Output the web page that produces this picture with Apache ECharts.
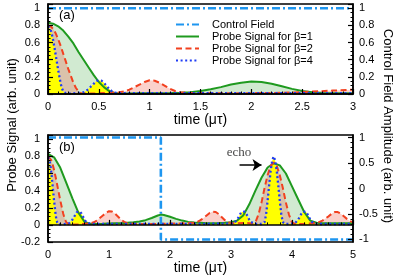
<!DOCTYPE html>
<html><head><meta charset="utf-8">
<script src="https://cdn.jsdelivr.net/npm/echarts@6/dist/echarts.min.js"></script>
<style>html,body{margin:0;padding:0;background:#fff}#c{width:399px;height:276px}</style>
</head><body><div id="c"></div>
<script>
// ---------- DATA ----------
const legendNames = ['Control Field', 'Probe Signal for β=1', 'Probe Signal for β=2', 'Probe Signal for β=4'];
const xTickTop = [0, 0.5, 1, 1.5, 2, 2.5, 3];
const xTickBot = [0, 1, 2, 3, 4, 5];
const rightTicksBot = [-1, -0.5, 0, 0.5, 1];

// panel (a)
const ctrlTopT = [0, 3];
const ctrlTopV = [1, 1];
const b1TopT = [0,0.05,0.1,0.15,0.2,0.25,0.3,0.35,0.4,0.45,0.5,0.55,0.6,0.65,0.7,0.8,0.9,1.0,1.1,1.2,1.3,1.4,1.5,1.6,1.7,1.8,1.9,2.0,2.1,2.2,2.3,2.4,2.5,2.6,2.7,2.8,2.9,3.0];
const b1TopV = [0.83,0.82,0.79,0.74,0.67,0.59,0.49,0.40,0.31,0.22,0.14,0.08,0.035,0.012,0.006,0.006,0.008,0.01,0.01,0.012,0.015,0.02,0.035,0.055,0.08,0.11,0.13,0.145,0.14,0.12,0.09,0.06,0.035,0.02,0.012,0.01,0.01,0.01];
const b2TopT = [0,0.025,0.05,0.075,0.1,0.125,0.15,0.175,0.2,0.225,0.25,0.275,0.3,0.325,0.35,0.4,0.5,0.6,0.7,0.75,0.8,0.85,0.9,0.95,1.0,1.05,1.1,1.15,1.2,1.25,1.3,1.4,1.6,1.8,2.0,2.2,2.4,2.6,2.8,3.0];
const b2TopV = [0.80,0.79,0.76,0.71,0.64,0.56,0.47,0.38,0.29,0.21,0.13,0.07,0.03,0.01,0.005,0.005,0.008,0.012,0.02,0.03,0.05,0.08,0.11,0.14,0.16,0.155,0.13,0.095,0.06,0.035,0.02,0.012,0.01,0.01,0.01,0.012,0.018,0.028,0.04,0.05];
const b4TopT = [0,0.0125,0.025,0.0375,0.05,0.0625,0.075,0.0875,0.1,0.1125,0.125,0.1375,0.15,0.1625,0.175,0.2,0.25,0.3,0.35,0.375,0.4,0.425,0.45,0.475,0.5,0.525,0.55,0.575,0.6,0.625,0.65,0.7,0.8,1.0,1.5,2.0,2.5,3.0];
const b4TopV = [0.79,0.78,0.75,0.70,0.63,0.55,0.46,0.37,0.28,0.20,0.12,0.065,0.03,0.01,0.005,0.005,0.008,0.012,0.02,0.035,0.06,0.09,0.12,0.15,0.16,0.155,0.13,0.095,0.06,0.035,0.018,0.01,0.01,0.01,0.01,0.01,0.01,0.01];

// panel (b)
const ctrlBotT = [0, 1.85, 1.85, 5];
const ctrlBotV = [1, 1, -1, -1];
const b1BotT = [0,0.1,0.2,0.3,0.4,0.5,0.6,0.7,0.8,0.9,1.0,1.1,1.2,1.3,1.4,1.5,1.6,1.7,1.8,1.85,1.9,2.0,2.1,2.2,2.3,2.4,2.5,2.6,2.7,2.8,2.9,3.0,3.1,3.2,3.3,3.4,3.5,3.6,3.7,3.8,3.9,4.0,4.1,4.2,4.3,4.4,4.5,4.6,4.8,5.0];
const b1BotV = [0.83,0.79,0.67,0.49,0.31,0.14,0.035,0.01,0.01,0.012,0.015,0.018,0.02,0.025,0.03,0.04,0.055,0.08,0.11,0.12,0.115,0.095,0.07,0.05,0.035,0.028,0.024,0.02,0.02,0.022,0.025,0.03,0.05,0.11,0.24,0.40,0.55,0.67,0.72,0.695,0.60,0.45,0.30,0.15,0.05,0.025,0.02,0.02,0.02,0.02];
const b2BotT = [0,0.025,0.05,0.075,0.1,0.125,0.15,0.175,0.2,0.225,0.25,0.275,0.3,0.325,0.35,0.4,0.5,0.6,0.7,0.75,0.8,0.85,0.9,0.95,1.0,1.05,1.1,1.15,1.2,1.25,1.3,1.4,1.6,1.8,2.0,2.2,2.4,2.45,2.5,2.55,2.6,2.65,2.7,2.75,2.8,2.85,2.9,2.95,3.0,3.1,3.2,3.3,3.35,3.4,3.45,3.5,3.55,3.6,3.65,3.7,3.75,3.8,3.85,3.9,3.95,4.0,4.05,4.1,4.2,4.3,4.4,4.45,4.5,4.55,4.6,4.65,4.7,4.75,4.8,4.85,4.9,4.95,5.0];
const b2BotV = [0.80,0.79,0.76,0.71,0.64,0.56,0.47,0.38,0.29,0.21,0.13,0.07,0.03,0.01,0.005,0.005,0.008,0.012,0.02,0.03,0.05,0.08,0.11,0.14,0.16,0.155,0.13,0.095,0.06,0.035,0.02,0.012,0.01,0.012,0.015,0.018,0.025,0.035,0.055,0.08,0.11,0.14,0.155,0.15,0.125,0.09,0.055,0.032,0.02,0.018,0.022,0.02,0.015,0.03,0.12,0.26,0.43,0.58,0.69,0.73,0.69,0.58,0.43,0.26,0.12,0.03,0.012,0.01,0.012,0.018,0.025,0.035,0.05,0.075,0.10,0.13,0.15,0.15,0.13,0.10,0.07,0.045,0.03];
const b4BotT = [0,0.0125,0.025,0.0375,0.05,0.0625,0.075,0.0875,0.1,0.1125,0.125,0.1375,0.15,0.1625,0.175,0.2,0.25,0.3,0.35,0.375,0.4,0.425,0.45,0.475,0.5,0.525,0.55,0.575,0.6,0.625,0.65,0.7,0.8,1.0,1.5,2.0,2.5,3.0,3.05,3.075,3.1,3.125,3.15,3.175,3.2,3.225,3.25,3.275,3.3,3.325,3.35,3.4,3.5,3.55,3.575,3.6,3.625,3.65,3.675,3.7,3.725,3.75,3.775,3.8,3.825,3.85,3.875,3.9,4.0,4.05,4.075,4.1,4.125,4.15,4.175,4.2,4.225,4.25,4.275,4.3,4.325,4.35,4.4,4.5,5.0];
const b4BotV = [0.79,0.78,0.75,0.70,0.63,0.55,0.46,0.37,0.28,0.20,0.12,0.065,0.03,0.01,0.005,0.005,0.008,0.012,0.02,0.035,0.06,0.09,0.12,0.15,0.16,0.155,0.13,0.095,0.06,0.035,0.018,0.01,0.01,0.012,0.012,0.012,0.012,0.015,0.02,0.035,0.06,0.09,0.125,0.15,0.16,0.155,0.13,0.095,0.06,0.035,0.018,0.01,0.01,0.03,0.12,0.28,0.46,0.63,0.75,0.80,0.75,0.63,0.46,0.28,0.12,0.03,0.01,0.01,0.015,0.02,0.035,0.06,0.09,0.125,0.15,0.16,0.155,0.13,0.095,0.06,0.035,0.018,0.01,0.01,0.01];

// annotation (data coordinates, panel b)
const echoTextPos = [3.13, 0.85];
const echoArrowFrom = [3.14, 0.70];
const echoArrowTo = [3.50, 0.70];

// ---------- CHART ----------
const FONT = '"Liberation Sans", Arial, Helvetica, sans-serif';
const C_CTRL = '#1e96f0', C_G = '#1f9a1f', C_R = '#f2401f', C_B = '#1f3cf5';
const FILL_G = 'rgba(70,170,70,0.25)', FILL_R = 'rgba(240,90,70,0.28)', FILL_Y = '#ffff00';
const zip = (t, v) => t.map((x, i) => [x, v[i]]);

function lineS(name, xi, yi, data, color, width, type, z) {
  return {type: 'line', name, xAxisIndex: xi, yAxisIndex: yi, data, symbol: 'none', showSymbol: false,
    lineStyle: {color, width, type}, itemStyle: {color}, z, silent: true, animation: false};
}
function fillS(name, xi, yi, data, color) {
  return {type: 'line', name, xAxisIndex: xi, yAxisIndex: yi, data, symbol: 'none', showSymbol: false,
    lineStyle: {width: 0, opacity: 0}, areaStyle: {color, opacity: 1, origin: 0}, z: 1, silent: true, animation: false};
}
const fmt02 = v => (Math.abs(v * 5 - Math.round(v * 5)) < 1e-6 ? String(Math.round(v * 10) / 10) : '');
const fmt05 = v => (Math.abs(v * 2 - Math.round(v * 2)) < 1e-6 ? String(Math.round(v * 2) / 2) : '');

const tickStyle = {show: true, inside: true, length: 5, lineStyle: {color: '#000', width: 1.2}};
const minorStyle = (n) => ({show: true, splitNumber: n, length: 2.5, lineStyle: {color: '#000', width: 1}});
const axLine = {show: true, lineStyle: {color: '#000', width: 1.5}};
const lbl = (m, f) => ({color: '#000', fontSize: 11, fontFamily: FONT, margin: m, formatter: f});

function xAx(gi, max, interval, ticks) {
  return {gridIndex: gi, type: 'value', min: 0, max, interval, z: 10,
    axisLine: axLine, axisTick: tickStyle, minorTick: minorStyle(5), splitLine: {show: false},
    axisLabel: lbl(7, v => (ticks.some(t => Math.abs(t - v) < 1e-6) ? String(v) : '')),
    name: 'time (μτ)', nameLocation: 'middle', nameGap: 15,
    nameTextStyle: {color: '#000', fontSize: 14, fontFamily: FONT}};
}
function yAx(gi, pos, min, max, interval, f, minorN, margin) {
  return {gridIndex: gi, type: 'value', position: pos, min, max, interval, z: 10,
    axisLine: axLine, axisTick: tickStyle, minorTick: minorStyle(minorN), splitLine: {show: false},
    axisLabel: lbl(margin, f)};
}
const yRightBot = {gridIndex: 1, type: 'value', position: 'right', min: -1.05, max: 1.05, z: 10,
  axisLine: axLine,
  axisTick: Object.assign({}, tickStyle, {customValues: rightTicksBot}),
  minorTick: minorStyle(5), splitLine: {show: false},
  axisLabel: Object.assign(lbl(6, fmt05), {customValues: rightTicksBot})};

const series = [
  fillS('fg1', 0, 0, zip(b1TopT, b1TopV), FILL_G),
  fillS('fr1', 0, 0, zip(b2TopT, b2TopV), FILL_R),
  fillS('fy1', 0, 0, zip(b4TopT, b4TopV), FILL_Y),
  fillS('fg2', 1, 2, zip(b1BotT, b1BotV), FILL_G),
  fillS('fr2', 1, 2, zip(b2BotT, b2BotV), FILL_R),
  fillS('fy2', 1, 2, zip(b4BotT, b4BotV), FILL_Y),
  lineS(legendNames[1], 0, 0, zip(b1TopT, b1TopV), C_G, 2, 'solid', 3),
  lineS(legendNames[2], 0, 0, zip(b2TopT, b2TopV), C_R, 2, [6, 3.5], 3),
  lineS(legendNames[3], 0, 0, zip(b4TopT, b4TopV), C_B, 2.3, [2, 2.6], 3),
  lineS(legendNames[0], 0, 1, zip(ctrlTopT, ctrlTopV), C_CTRL, 2.6, [8, 3, 2, 3], 4),
  lineS(legendNames[1], 1, 2, zip(b1BotT, b1BotV), C_G, 2, 'solid', 3),
  lineS(legendNames[2], 1, 2, zip(b2BotT, b2BotV), C_R, 2, [6, 3.5], 3),
  lineS(legendNames[3], 1, 2, zip(b4BotT, b4BotV), C_B, 2.3, [2, 2.6], 3),
  lineS(legendNames[0], 1, 3, zip(ctrlBotT, ctrlBotV), C_CTRL, 2.6, [8, 3, 2, 3], 4),
  {type: 'scatter', name: 'echo', xAxisIndex: 1, yAxisIndex: 2, data: [echoTextPos], symbolSize: 0.1,
    silent: true, animation: false, z: 6,
    label: {show: true, position: 'inside', formatter: 'echo', color: '#111', fontSize: 13,
      fontFamily: '"Liberation Serif", "Times New Roman", serif'},
    markLine: {silent: true, animation: false, symbol: ['none', 'arrow'], symbolSize: 9,
      lineStyle: {color: '#000', width: 1.5, type: 'solid'}, label: {show: false},
      emphasis: {disabled: true},
      data: [[{coord: echoArrowFrom}, {coord: echoArrowTo}]]}}
];

const option = {
  animation: false,
  backgroundColor: '#fff',
  textStyle: {fontFamily: FONT},
  grid: [
    {left: 48, top: 4, width: 305, height: 90, show: true, borderColor: '#000', borderWidth: 1.5, z: 10, backgroundColor: 'transparent'},
    {left: 48, top: 135, width: 305, height: 107, show: true, borderColor: '#000', borderWidth: 1.5, z: 10, backgroundColor: 'transparent'}
  ],
  xAxis: [xAx(0, 3, 0.5, xTickTop), xAx(1, 5, 1, xTickBot)],
  yAxis: [
    yAx(0, 'left', 0, 1.05, 0.2, fmt02, 4, 8),
    yAx(0, 'right', 0, 1.05, 0.2, fmt02, 4, 6),
    yAx(1, 'left', -0.2, 1.05, 0.2, fmt02, 4, 8),
    yRightBot
  ],
  legend: {data: legendNames, orient: 'vertical', left: 170, top: 14, itemWidth: 23, itemHeight: 11, itemGap: 1,
    selectedMode: false,
    itemStyle: {color: 'rgba(0,0,0,0)', borderColor: 'rgba(0,0,0,0)', borderWidth: 0, opacity: 0},
    textStyle: {fontSize: 11, color: '#000', fontFamily: FONT, lineHeight: 11, padding: [0, 0, 0, 8]}},
  graphic: [
    {type: 'text', x: 12, y: 125, rotation: Math.PI / 2, silent: true,
      style: {text: 'Probe Signal (arb. unit)', font: '13px ' + FONT, fill: '#000', align: 'center', verticalAlign: 'middle'}},
    {type: 'text', x: 388, y: 126, rotation: -Math.PI / 2, silent: true,
      style: {text: 'Control Field Amplitude (arb. unit)', font: '13px ' + FONT, fill: '#000', align: 'center', verticalAlign: 'middle'}},
    {type: 'text', x: 59, y: 15, silent: true, z: 20,
      style: {text: '(a)', font: '13px ' + FONT, fill: '#000', align: 'left', verticalAlign: 'middle'}},
    {type: 'text', x: 59, y: 147, silent: true, z: 20,
      style: {text: '(b)', font: '13px ' + FONT, fill: '#000', align: 'left', verticalAlign: 'middle'}}
  ],
  series
};
const chart = echarts.init(document.getElementById('c'), null, {renderer: 'canvas'});
chart.setOption(option);
</script></body></html>
